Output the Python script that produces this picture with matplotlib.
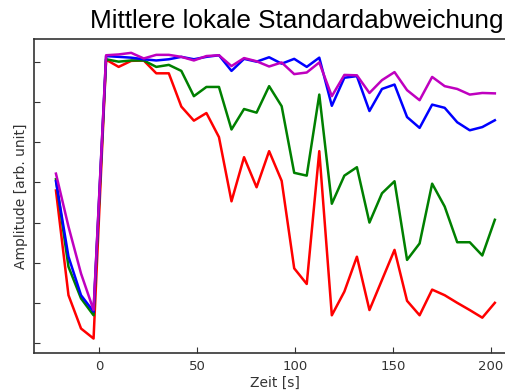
import numpy as np
import matplotlib
matplotlib.use("Agg")
import matplotlib.pyplot as plt

# Zeitpunkte (s)
zeit = [-22.0, -15.6, -9.2, -2.8, 3.6, 10.0, 16.4, 22.8, 29.2, 35.6, 42.0, 48.4,
        54.8, 61.2, 67.6, 74.0, 80.4, 86.8, 93.2, 99.6, 106.0, 112.4, 118.8, 125.2,
        131.6, 138.0, 144.4, 150.8, 157.2, 163.6, 170.0, 176.4, 182.8, 189.2, 195.6, 202.0]

rot = [3.80, 1.19, 0.36, 0.11, 7.06, 6.88, 7.03, 7.04, 6.72, 6.72, 5.89, 5.54,
       5.73, 5.13, 3.53, 4.63, 3.88, 4.78, 4.04, 1.86, 1.47, 4.78, 0.69, 1.28,
       2.15, 0.82, 1.57, 2.32, 1.05, 0.69, 1.33, 1.19, 1.00, 0.82, 0.63, 1.00]

gruen = [4.08, 1.90, 1.11, 0.69, 7.07, 7.01, 7.04, 7.04, 6.88, 6.93, 6.78, 6.15,
         6.38, 6.38, 5.32, 5.83, 5.74, 6.40, 5.90, 4.24, 4.17, 6.19, 3.47, 4.17,
         4.38, 3.00, 3.73, 4.03, 2.07, 2.48, 3.97, 3.40, 2.51, 2.51, 2.18, 3.07]

blau = [4.03, 2.15, 1.19, 0.78, 7.15, 7.13, 7.11, 7.07, 7.04, 7.07, 7.13, 7.07,
        7.13, 7.17, 6.78, 7.08, 7.01, 7.12, 6.96, 7.08, 6.88, 7.11, 5.91, 6.61,
        6.65, 5.78, 6.33, 6.44, 5.63, 5.36, 5.94, 5.86, 5.50, 5.30, 5.38, 5.55]

magenta = [4.22, 2.90, 1.73, 0.82, 7.17, 7.19, 7.23, 7.09, 7.18, 7.18, 7.13, 7.04,
           7.15, 7.17, 6.90, 7.10, 7.02, 6.89, 6.99, 6.70, 6.74, 6.99, 6.15, 6.68,
           6.67, 6.23, 6.55, 6.75, 6.30, 6.05, 6.63, 6.40, 6.33, 6.19, 6.23, 6.22]

fig = plt.figure(figsize=(5.06, 3.92), dpi=100)
ax = fig.add_axes([34 / 506, 1 - 353 / 392, (516 - 34) / 506, (353 - 39) / 392])

ax.plot(zeit, rot, color="#ff0000", lw=1.8)
ax.plot(zeit, gruen, color="#008000", lw=1.8)
ax.plot(zeit, blau, color="#0000ff", lw=1.8)
ax.plot(zeit, magenta, color="#bf00bf", lw=1.8)

ax.set_xlim(-33.2, 212.8)
ax.set_ylim(-0.25, 7.575)
ax.set_xticks([0, 50, 100, 150, 200])
ax.set_yticks(range(8))
ax.set_yticklabels([])
ax.tick_params(direction="in", length=4, labelsize=9.5, colors="#333333")
ax.tick_params(axis="x", pad=5)
for s in ax.spines.values():
    s.set_color("#333333")
    s.set_linewidth(1.2)

ax.set_xlabel("Zeit [s]", fontsize=10, color="#333333", labelpad=2)
ax.set_ylabel("Amplitude [arb. unit]", fontsize=10, color="#333333", labelpad=1)
ax.set_title("Mittlere lokale Standardabweichung", fontsize=18.8,
             family="Liberation Sans", x=0.545, pad=8)

fig.savefig("out.png", dpi=100)
